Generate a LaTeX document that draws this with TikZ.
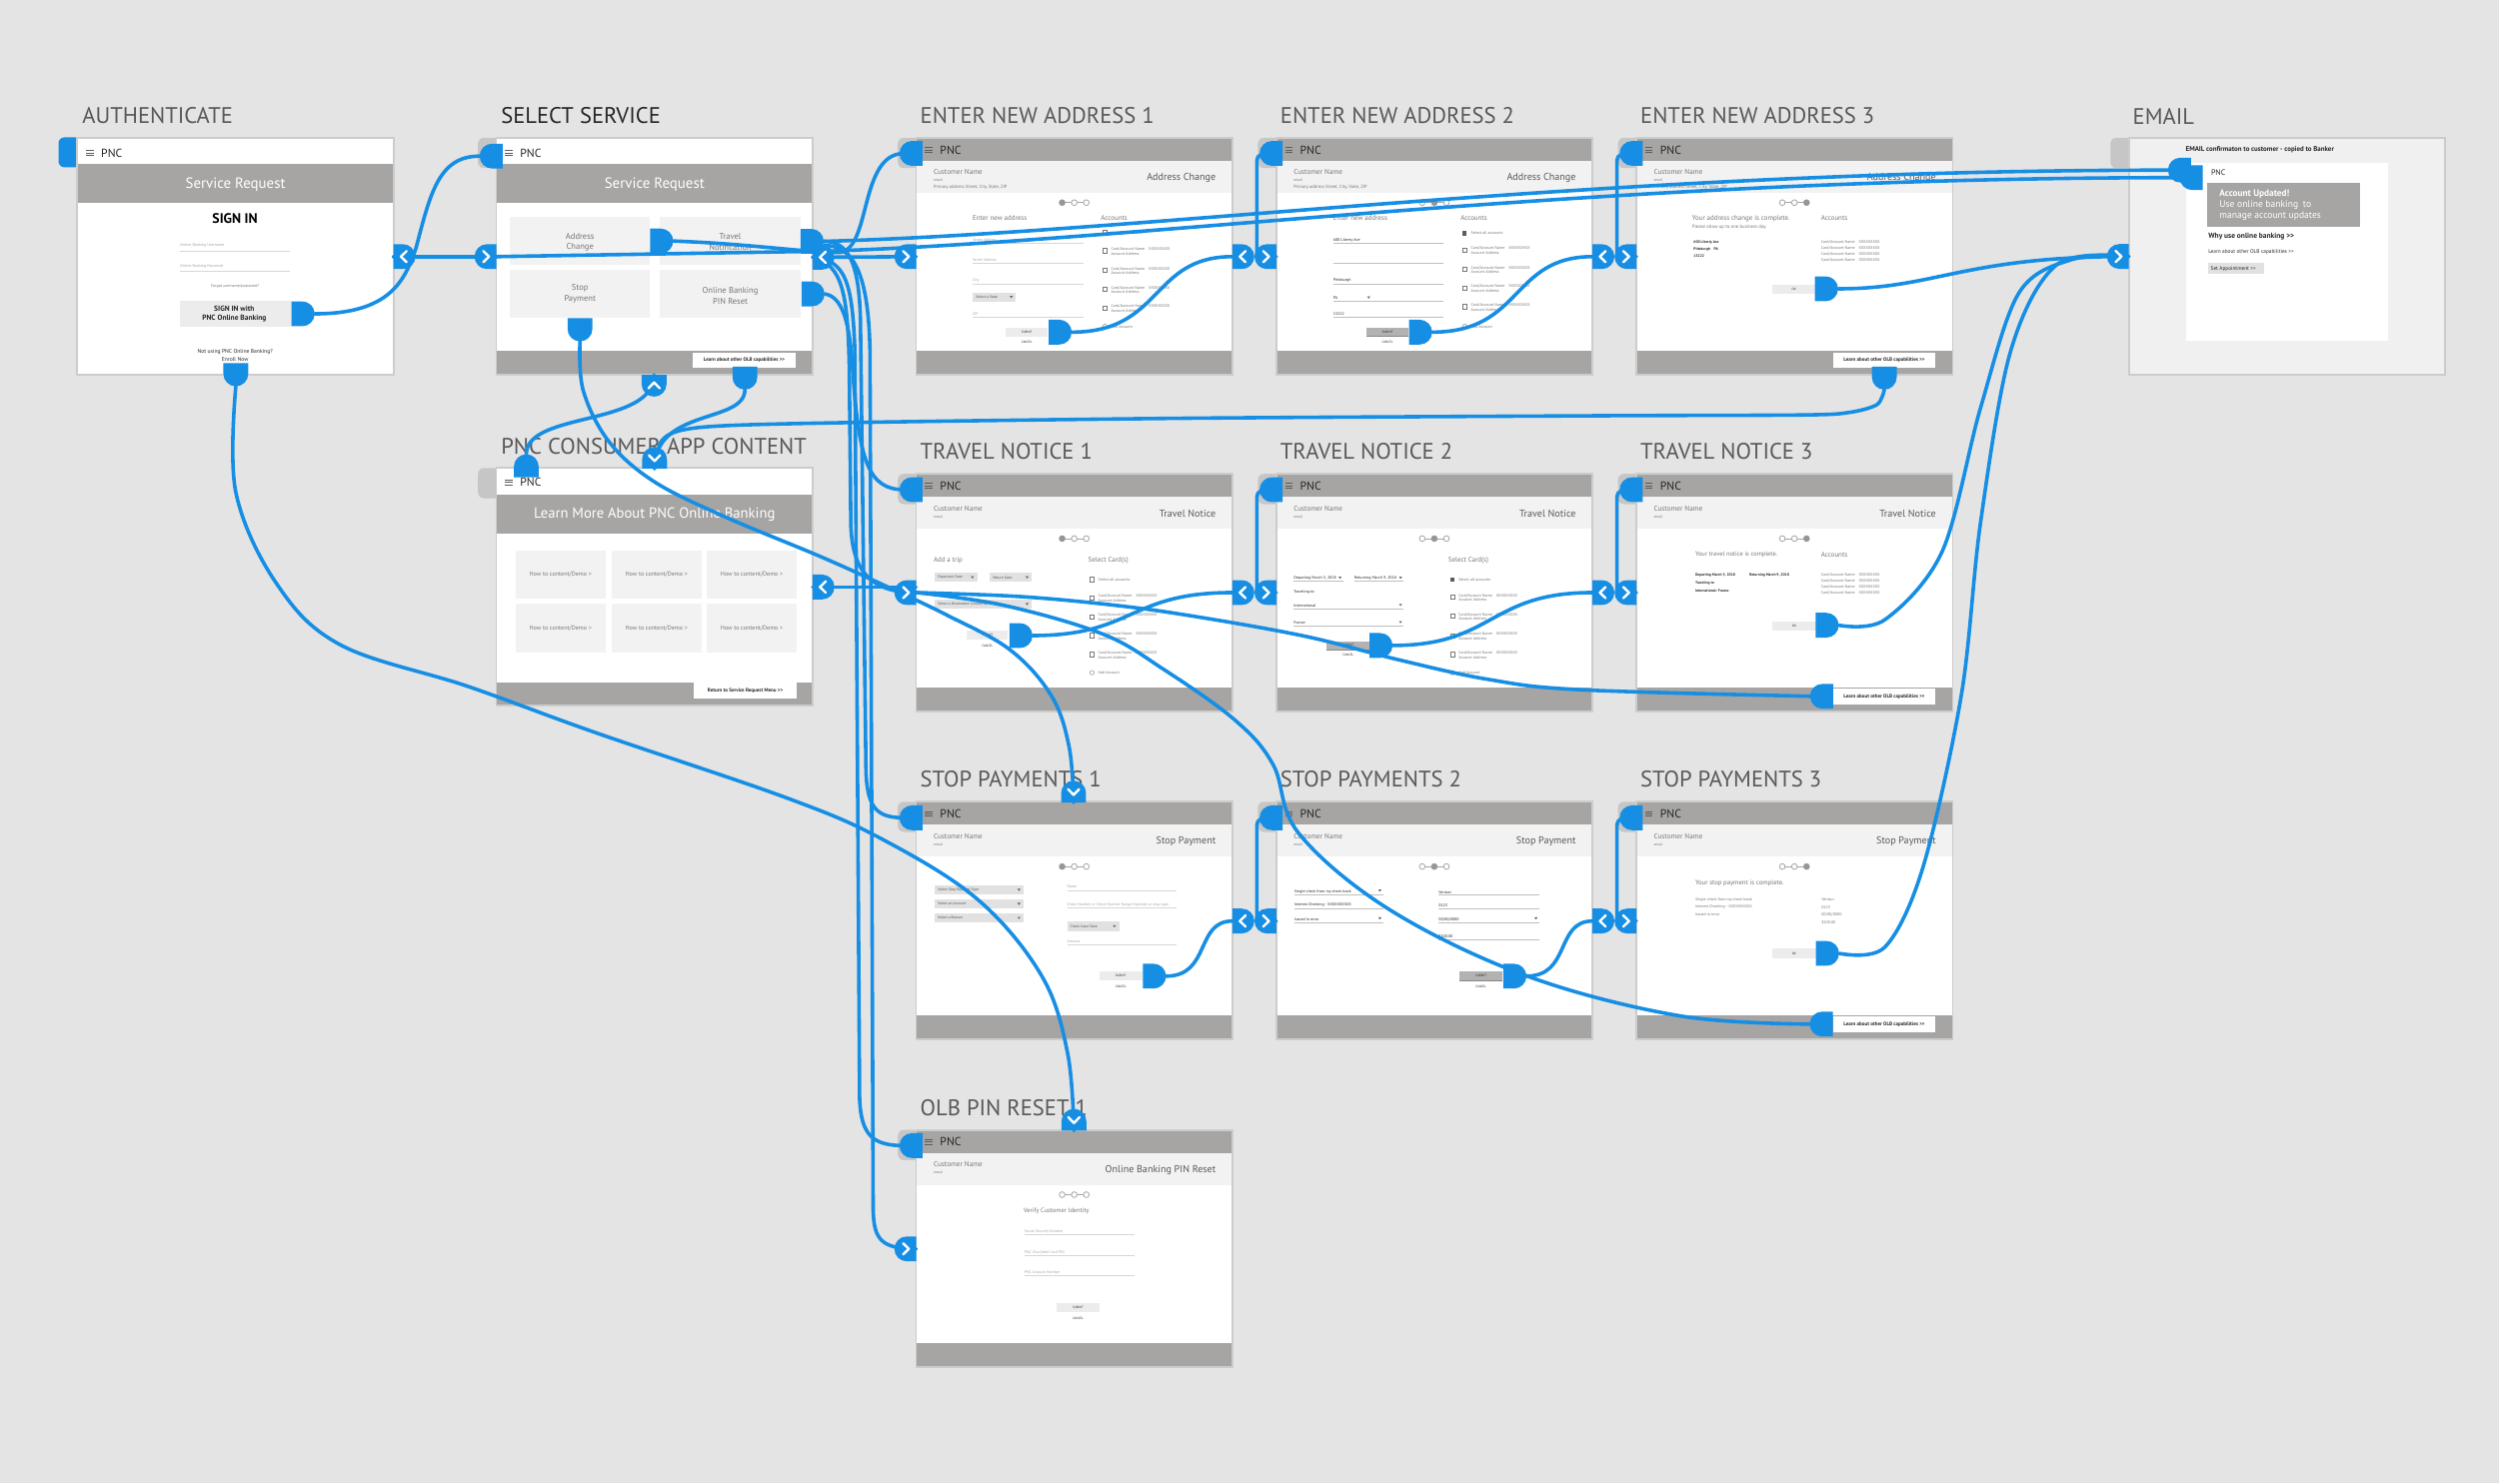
\documentclass[tikz,border=0pt]{standalone}
\usepackage{fontspec}
\setmainfont{PT Sans}
\usetikzlibrary{calc}
\definecolor{bg}{RGB}{228,228,228}
\definecolor{hdr}{RGB}{166,165,163}
\definecolor{band}{RGB}{243,242,243}
\definecolor{bd}{RGB}{204,204,204}
\definecolor{tabg}{RGB}{198,198,198}
\definecolor{blu}{RGB}{22,142,228}
\definecolor{ttl}{RGB}{88,88,88}
\definecolor{tg}{RGB}{118,118,118}
\definecolor{tl}{RGB}{165,165,165}
\definecolor{dk}{RGB}{38,38,38}
\definecolor{tile}{RGB}{243,242,243}
\definecolor{btn}{RGB}{236,236,236}
\definecolor{dd}{RGB}{225,225,225}
\definecolor{ln}{RGB}{214,214,214}
\definecolor{lnd}{RGB}{190,190,190}
\definecolor{embg}{RGB}{240,240,240}
\definecolor{dbtn}{RGB}{178,178,178}
\definecolor{dotg}{RGB}{150,150,150}
\newcounter{tn}
\tikzset{
  lbl/.style={inner sep=0pt, outer sep=0pt, anchor=west, text=tg},
  f/.style={font=\fontsize{#1pt}{#1pt}\selectfont},
  fb/.style={font=\fontsize{#1pt}{#1pt}\selectfont\bfseries},
  conn/.style={draw=blu, line width=1.35pt, line cap=round, line join=round},
  chev/.style={draw=white, line width=0.9pt, line cap=round, line join=round},
  thinl/.style={line width=0.3pt},
}
\newcommand\GG{>\kern0pt>}
\newcommand\Tx[3][]{\stepcounter{tn}\node[lbl,#1] (t\arabic{tn}) at (#2) {#3};}
\newcommand\Hamb[1]{%
  \draw[dk!75,line width=0.35pt] (5.5,#1-1.5) -- (10.3,#1-1.5) (5.5,#1) -- (10.3,#1) (5.5,#1+1.5) -- (10.3,#1+1.5);
  \Tx[f=4.4,text=dk]{15,#1}{PNC}}
\newcommand\FrmA[1][white]{\fill[tabg, rounded corners=2.2pt] (-11.5,0) rectangle (4,19); \fill[#1] (0,0) rectangle (198.5,149);}
\newcommand\FrmZ{\draw[bd, line width=0.7pt] (0,0) rectangle (198.5,149);}
\newcommand\AppHdr[2]{%
  \fill[hdr] (0,0.6) rectangle (198.5,14.5);
  \fill[band] (0,14.5) rectangle (198.5,34.5);
  \fill[hdr] (0,134) rectangle (198.5,148.4);
  \Hamb{7.6}
  \Tx[f=2.7]{11,21.6}{Customer Name}
  \Tx[f=1.4]{11,26.7}{email}
  \Tx[f=3.8,anchor=east,text=ttl]{188,25}{#1}
  #2}
\newcommand\Prog[2]{%
  \draw[tl,line width=0.3pt] (#1-7.6,#2) -- (#1+7.6,#2);
  \filldraw[draw=tl,fill=white,line width=0.3pt] (#1-7.6,#2) circle[radius=1.8] (#1,#2) circle[radius=1.8] (#1+7.6,#2) circle[radius=1.8];}
\newcommand\Dot[2]{\fill[dotg] (#1,#2) circle[radius=1.9];}
\newcommand\Fld[4]{\Tx[f=1.45,text=tl]{#1,#2-2}{#4}\draw[ln,thinl] (#1,#2) -- (#1+#3,#2);}
\newcommand\Val[4]{\Tx[f=1.5,text=dk]{#1,#2-2}{#4}\draw[lnd,thinl] (#1,#2) -- (#1+#3,#2);}
\newcommand\Tri[2]{\fill[dk!70] (#1-1,#2-0.7) -- (#1+1,#2-0.7) -- (#1,#2+0.7) -- cycle;}
\newcommand\Ddn[4]{%
  \fill[dd] (#1,#2) rectangle (#1+#3,#2+5.8);
  \Tx[f=1.4,text=dk!80]{#1+2,#2+2.9}{#4}
  \Tri{#1+#3-3}{#2+2.9}}
\newcommand\Btn[6]{\fill[#5] (#1,#2) rectangle (#1+#3,#2+#4); \Tx[f=1.2,text=dk,anchor=center]{#1+0.5*#3,#2+0.5*#4}{#6}}
\newcommand\FBtn[3]{\fill[white] (#1,#2) rectangle (#1+64.5,#2+9.8); \Tx[fb=1.9,text=dk,anchor=center]{#1+32.25,#2+4.9}{#3}}
\newcommand\Acct[2]{%
  \draw[tg,line width=0.25pt] (#1-1.2,#2-1.3) rectangle (#1+1.2,#2+1.3);
  \Tx[f=1.5]{#1+4,#2-0.9}{Card/Account Name\quad XXXXXXXXX}
  \Tx[f=1.5]{#1+4,#2+1.8}{Account Address}}
\newcommand\AcctBlock[8]{%
  \ifnum#8=1 \fill[dk!75] (#1-1.3,#2-1.4) rectangle (#1+1.3,#2+1.4);\else
  \draw[tg,line width=0.25pt] (#1-1.2,#2-1.3) rectangle (#1+1.2,#2+1.3);\fi
  \Tx[f=1.5]{#1+4,#2}{Select all accounts}
  \Acct{#1}{#3}\Acct{#1}{#4}\Acct{#1}{#5}\Acct{#1}{#6}
  \draw[tl,line width=0.25pt] (#1,#7) circle[radius=1.4];
  \Tx[f=1.5]{#1+4,#7}{Add Account}}
\newcommand\Vc[2]{\draw[conn] (#1) -- ++(-12.2,0) -- ($(#2)+(-1.7,8)$) .. controls ($(#2)+(-1.7,1.5)$) .. ($(#2)+(4,0)$);}
\newcommand\Hsr[1]{\fill[blu] ([shift={(-14.5,-7.8)}]#1) -- ++(6.7,0) arc[start angle=-90,end angle=90,radius=7.8] -- ++(-6.7,0) -- cycle;}
\newcommand\Hsl[1]{\fill[blu] ([shift={(14.5,-7.8)}]#1) -- ++(-6.7,0) arc[start angle=-90,end angle=-270,radius=7.8] -- ++(6.7,0) -- cycle;}
\newcommand\Hsd[1]{\fill[blu] ([shift={(-7.8,-14.5)}]#1) -- ++(0,6.7) arc[start angle=180,end angle=0,radius=7.8] -- ++(0,-6.7) -- cycle;}
\newcommand\Hsu[1]{\fill[blu] ([shift={(-7.8,14.5)}]#1) -- ++(0,-6.7) arc[start angle=180,end angle=360,radius=7.8] -- ++(0,6.7) -- cycle;}
\newcommand\TabR[1]{\fill[blu] ([shift={(0,-7.8)}]#1) -- ++(5.9,0) arc[start angle=-90,end angle=90,radius=7.8] -- ++(-5.9,0) -- cycle;
  \draw[chev] ([shift={(8.2,-3.5)}]#1) -- ([shift={(4.6,0)}]#1) -- ([shift={(8.2,3.5)}]#1);}
\newcommand\TabL[1]{\fill[blu] ([shift={(0,-7.8)}]#1) -- ++(-5.9,0) arc[start angle=-90,end angle=-270,radius=7.8] -- ++(5.9,0) -- cycle;
  \draw[chev] ([shift={(-8.2,-3.5)}]#1) -- ([shift={(-4.6,0)}]#1) -- ([shift={(-8.2,3.5)}]#1);}
\newcommand\TabU[1]{\fill[blu] ([shift={(-7.8,0)}]#1) -- ++(0,-5.9) arc[start angle=180,end angle=360,radius=7.8] -- ++(0,5.9) -- cycle;
  \draw[chev] ([shift={(-3.5,-8.4)}]#1) -- ([shift={(0,-4.8)}]#1) -- ([shift={(3.5,-8.4)}]#1);}
\newcommand\TabD[1]{\fill[blu] ([shift={(-7.8,0)}]#1) -- ++(0,5.9) arc[start angle=180,end angle=0,radius=7.8] -- ++(0,-5.9) -- cycle;
  \draw[chev] ([shift={(-3.5,8.4)}]#1) -- ([shift={(0,4.8)}]#1) -- ([shift={(3.5,8.4)}]#1);}
\begin{document}
\begin{tikzpicture}[x=0.6pt,y=-0.6pt]
\fill[bg] (0,0) rectangle (1568.4,931);
\useasboundingbox (0,0) rectangle (1568.4,931);
% ---------- titles
\Tx[f=8.5,text=ttl]{51.7,72.8}{AUTHENTICATE}
\Tx[f=8.5,text=dk]{314.5,72.8}{SELECT SERVICE}
\Tx[f=8.5,text=ttl]{577.6,72.8}{ENTER NEW ADDRESS 1}
\Tx[f=8.5,text=ttl]{803.6,72.8}{ENTER NEW ADDRESS 2}
\Tx[f=8.5,text=ttl]{1029.6,72.8}{ENTER NEW ADDRESS 3}
\Tx[f=8.5,text=ttl]{1338.6,72.8}{EMAIL}
\Tx[f=8.5,text=ttl]{314.5,279.9}{PNC CONSUMER APP CONTENT}
\Tx[f=8.5,text=ttl]{577.6,283.3}{TRAVEL NOTICE 1}
\Tx[f=8.5,text=ttl]{803.6,283.3}{TRAVEL NOTICE 2}
\Tx[f=8.5,text=ttl]{1029.6,283.3}{TRAVEL NOTICE 3}
\Tx[f=8.5,text=ttl]{577.6,489.3}{STOP PAYMENTS 1}
\Tx[f=8.5,text=ttl]{803.6,489.3}{STOP PAYMENTS 2}
\Tx[f=8.5,text=ttl]{1029.6,489.3}{STOP PAYMENTS 3}
\Tx[f=8.5,text=ttl]{577.6,695.3}{OLB PIN RESET 1}
% ---------- AUTHENTICATE
\begin{scope}[shift={(48.5,86.5)}]
 \fill[blu, rounded corners=2.2pt] (-11.8,-0.3) rectangle (4,18.5);
 \fill[white] (0,0) rectangle (198.5,149);
 \Hamb{9.7}
 \fill[hdr] (0,16.5) rectangle (198.5,41);
 \Tx[f=5.6,text=white,anchor=center]{99.3,29.5}{Service Request}
 \Tx[fb=5.2,text=black,anchor=center]{99,50.5}{SIGN IN}
 \Tx[f=1.5,text=tl]{64.5,67.6}{Online Banking Username}
 \draw[ln,thinl] (64.5,71) -- (133.5,71);
 \Tx[f=1.5,text=tl]{64.5,80.8}{Online Banking Password}
 \draw[ln,thinl] (64.5,83.9) -- (133.5,83.9);
 \Tx[f=1.5,text=tg,anchor=center]{99,93.3}{Forgot username/password?}
 \fill[btn] (64.5,102.3) rectangle (134.5,118.8);
 \Tx[fb=2.8,text=dk,anchor=center]{98.5,107.5}{SIGN IN with}
 \Tx[fb=2.8,text=dk,anchor=center]{98.5,113.4}{PNC Online Banking}
 \Tx[f=2.1,text=dk,anchor=center]{99,134.1}{Not using PNC Online Banking?}
 \Tx[f=2.1,text=dk,anchor=center]{99,138.9}{Enroll Now}
 \FrmZ
\end{scope}
% ---------- SELECT SERVICE
\begin{scope}[shift={(311.5,86.5)}]
 \FrmA
 \Hamb{9.7}
 \fill[hdr] (0,16.5) rectangle (198.5,41);
 \Tx[f=5.6,text=white,anchor=center]{99.3,29.5}{Service Request}
 \fill[tile] (8.5,49.4) rectangle (96.5,79.7);
 \fill[tile] (102.5,49.4) rectangle (191,79.7);
 \fill[tile] (8.5,82.9) rectangle (96.5,113.2);
 \fill[tile] (102.5,82.9) rectangle (191,113.2);
 \Tx[f=3.2,anchor=center]{52.5,61.9}{Address}
 \Tx[f=3.2,anchor=center]{52.5,68.8}{Change}
 \Tx[f=3.2,anchor=center]{146.8,61.9}{Travel}
 \Tx[f=3.2,anchor=center]{146.8,68.8}{Notification}
 \Tx[f=3.2,anchor=center]{52.5,94.4}{Stop}
 \Tx[f=3.2,anchor=center]{52.5,101}{Payment}
 \Tx[f=3.2,anchor=center]{146.8,96}{Online Banking}
 \Tx[f=3.2,anchor=center]{146.8,102.6}{PIN Reset}
 \fill[hdr] (0,134) rectangle (198.5,148.4);
 \FBtn{123.3}{134.7}{Learn about other OLB capabilities \GG}
 \FrmZ
\end{scope}
% ---------- PNC CONSUMER APP CONTENT
\begin{scope}[shift={(311.5,293.8)}]
 \FrmA
 \Hamb{9}
 \fill[hdr] (0,16.7) rectangle (198.5,41.2);
 \Tx[f=5.5,text=white,anchor=center]{99.3,29}{Learn More About PNC Online Banking}
 \foreach \a/\b in {12.2/51.8, 72.4/51.8, 132.2/51.8, 12.2/85.3, 72.4/85.3, 132.2/85.3}{
   \fill[tile] (\a,\b) rectangle (\a+56.3,\b+30.3);
   \Tx[f=2.3,anchor=center]{\a+28.1,\b+15.2}{How to content/Demo >}}
 \fill[hdr] (0,134.8) rectangle (198.5,148.6);
 \FBtn{124}{134.8}{Return to Service Request Menu \GG}
 \FrmZ
\end{scope}
% ---------- ENTER NEW ADDRESS 1
\begin{scope}[shift={(575,86.5)}]
 \FrmA
 \AppHdr{Address Change}{\Tx[f=1.7]{11,30.8}{Primary address Street, City, State, ZIP}}
 \Prog{99.2}{40.7}\Dot{91.6}{40.7}
 \Tx[f=2.6]{35.5,50.5}{Enter new address}
 \Tx[f=2.6]{116,50.5}{Accounts}
 \Fld{35.5}{66.2}{69.5}{Street Address}
 \Fld{35.5}{78.7}{69.5}{Street Address}
 \Fld{35.5}{91.7}{69.5}{City}
 \Ddn{35.5}{97.1}{27.2}{Select a State}
 \Fld{35.5}{112.6}{69.5}{ZIP}
 \AcctBlock{118.4}{59.5}{70.9}{83.3}{95}{106.9}{118.4}{0}
 \Btn{56.3}{119}{26.3}{5.8}{btn}{SUBMIT}
 \Tx[f=1.2,text=dk,anchor=center]{69.5,128.5}{CANCEL}
 \FrmZ
\end{scope}
% ---------- ENTER NEW ADDRESS 2
\begin{scope}[shift={(801,86.5)}]
 \FrmA
 \AppHdr{Address Change}{\Tx[f=1.7]{11,30.8}{Primary address Street, City, State, ZIP}}
 \Prog{99.2}{40.7}\Dot{99.2}{40.7}
 \Tx[f=2.6]{35.8,50.5}{Enter new address}
 \Tx[f=2.6]{115.8,50.5}{Accounts}
 \Val{35.8}{66.2}{68.8}{600 Liberty Ave}
 \draw[lnd,thinl] (35.8,78.7) -- (104.6,78.7);
 \Val{35.8}{91.7}{68.8}{Pittsburgh}
 \Val{35.8}{102.3}{68.8}{PA}\Tri{58}{100.3}
 \Val{35.8}{112.6}{68.8}{15222}
 \AcctBlock{118.3}{60}{70.5}{82.5}{94.2}{106}{118.4}{1}
 \Btn{56.6}{119.2}{26.5}{5.6}{dbtn}{SUBMIT}
 \draw[dk!55,line width=0.4pt] (56.6,124.8) -- (83.1,124.8);
 \Tx[f=1.2,text=dk,anchor=center]{69.8,128.5}{CANCEL}
 \FrmZ
\end{scope}
% ---------- ENTER NEW ADDRESS 3
\begin{scope}[shift={(1027,86.5)}]
 \FrmA
 \AppHdr{Address Change}{\Tx[f=1.7]{11,30.8}{Primary address Street, City, State, ZIP}}
 \Prog{99.2}{40.7}\Dot{106.8}{40.7}
 \Tx[f=2.6]{35,50.5}{Your address change is complete.}
 \Tx[f=1.8]{35,55.9}{Please allow up to one business day.}
 \Tx[f=2.6]{116,50.5}{Accounts}
 \Tx[fb=1.4,text=dk]{36,65.7}{600 Liberty Ave}
 \Tx[fb=1.4,text=dk]{36,70.1}{Pittsburgh\quad PA}
 \Tx[fb=1.4,text=dk]{36,74.1}{15222}
 \Tx[f=1.5]{116,65.7}{Card/Account Name\quad XXXXXXXXX}
 \Tx[f=1.5]{116,69.5}{Card/Account Name\quad XXXXXXXXX}
 \Tx[f=1.5]{116,73.2}{Card/Account Name\quad XXXXXXXXX}
 \Tx[f=1.5]{116,77}{Card/Account Name\quad XXXXXXXXX}
 \Btn{85.4}{92.3}{27.1}{5.6}{btn}{OK}
 \FBtn{123.3}{134.7}{Learn about other OLB capabilities \GG}
 \FrmZ
\end{scope}
% ---------- EMAIL
\begin{scope}[shift={(1336,86.5)}]
 \FrmA[embg]
 \Tx[fb=2.6,text=dk]{35.8,7.2}{EMAIL confirmaton to customer - copied to Banker}
 \fill[white] (35.8,16) rectangle (162.5,127.5);
 \Tx[f=3,text=dk]{51.7,22.1}{PNC}
 \fill[hdr] (48.9,28.1) rectangle (145,55.7);
 \Tx[fb=3.5,text=white]{57,35.4}{Account Updated!}
 \Tx[f=3.6,text=white]{57,42.3}{Use online banking\enspace to}
 \Tx[f=3.6,text=white]{57,49.2}{manage account updates}
 \Tx[fb=2.8,text=dk]{50,62.2}{Why use online banking \GG}
 \Tx[f=2,text=dk]{50,71.8}{Learn about other OLB capabilities \GG}
 \fill[dd] (50,78.7) rectangle (85,85.6);
 \Tx[f=2,text=dk]{51.5,82.2}{Set Appointment \GG}
 \FrmZ
\end{scope}
% ---------- TRAVEL NOTICE 1
\begin{scope}[shift={(575,297.5)}]
 \FrmA
 \AppHdr{Travel Notice}{}
 \Prog{99.2}{40.6}\Dot{91.6}{40.6}
 \Tx[f=2.6]{11,54.2}{Add a trip}
 \Tx[f=2.6]{108,54.2}{Select Card(s)}
 \Ddn{11.7}{62.1}{26.6}{Departure Date}
 \Ddn{46.3}{62.1}{26.3}{Return Date}
 \Ddn{11.7}{78.9}{60.9}{Select a Destination (choose up to 10)}
 \AcctBlock{110.3}{66.3}{77.8}{89.7}{101.4}{113.3}{124.8}{0}
 \Btn{31.9}{98.1}{25.6}{6.2}{btn}{SUBMIT}
 \Tx[f=1.2,text=dk,anchor=center]{44.7,108.1}{CANCEL}
 \FrmZ
\end{scope}
% ---------- TRAVEL NOTICE 2
\begin{scope}[shift={(801,297.5)}]
 \FrmA
 \AppHdr{Travel Notice}{}
 \Prog{99.2}{40.6}\Dot{99.2}{40.6}
 \Tx[f=2.6]{108,54.2}{Select Card(s)}
 \Val{11}{67.5}{31}{Departing March 3, 2018}\Tri{40}{65.2}
 \Val{49}{67.5}{31}{Returning March 9, 2018}\Tri{78}{65.2}
 \Tx[f=1.5,text=dk]{11,74.5}{Traveling to:}
 \Val{11}{84.8}{69}{International}\Tri{78}{82.3}
 \Val{11}{95.6}{69}{France}\Tri{78}{93.1}
 \AcctBlock{110.5}{66.3}{77.4}{89.3}{101.5}{113.3}{124.8}{1}
 \Btn{31.8}{105}{26.8}{5.3}{dbtn}{SUBMIT}
 \draw[dk!55,line width=0.4pt] (31.8,110.3) -- (58.6,110.3);
 \Tx[f=1.2,text=dk,anchor=center]{45.2,113.7}{CANCEL}
 \FrmZ
\end{scope}
% ---------- TRAVEL NOTICE 3
\begin{scope}[shift={(1027,297.5)}]
 \FrmA
 \AppHdr{Travel Notice}{}
 \Prog{99.2}{40.6}\Dot{106.8}{40.6}
 \Tx[f=2.4]{37,50.9}{Your travel notice is complete.}
 \Tx[f=2.6]{116,50.9}{Accounts}
 \Tx[fb=1.4,text=dk]{37,63.5}{Departing March 3, 2018}
 \Tx[fb=1.4,text=dk]{71,63.5}{Returning March 9, 2018}
 \Tx[fb=1.4,text=dk]{37,68.5}{Traveling to}
 \Tx[fb=1.4,text=dk]{37,73.5}{International: France}
 \Tx[f=1.5]{116,63.5}{Card/Account Name\quad XXXXXXXXX}
 \Tx[f=1.5]{116,67.2}{Card/Account Name\quad XXXXXXXXX}
 \Tx[f=1.5]{116,71.1}{Card/Account Name\quad XXXXXXXXX}
 \Tx[f=1.5]{116,74.7}{Card/Account Name\quad XXXXXXXXX}
 \Btn{85.5}{92.5}{27.1}{5.6}{btn}{OK}
 \FBtn{123.3}{134.9}{Learn about other OLB capabilities \GG}
 \FrmZ
\end{scope}
% ---------- STOP PAYMENTS 1
\begin{scope}[shift={(575,503.3)}]
 \FrmA
 \AppHdr{Stop Payment}{}
 \Prog{99.2}{40.7}\Dot{91.6}{40.7}
 \Ddn{11.5}{52.5}{56}{Select Stop Payment Type}
 \Ddn{11.5}{61.3}{56}{Select an Account}
 \Ddn{11.5}{70.1}{56}{Select a Reason}
 \Fld{94.7}{55.7}{68.8}{Payee}
 \Fld{94.7}{66.5}{68.8}{Check Number or Check Number Range Depends on stop type}
 \Ddn{94.7}{75.3}{32.7}{Check Issue Date}
 \Fld{94.7}{89.9}{68.8}{Amount}
 \Btn{115}{106.4}{26.8}{5.9}{btn}{SUBMIT}
 \Tx[f=1.2,text=dk,anchor=center]{128.4,116}{CANCEL}
 \FrmZ
\end{scope}
% ---------- STOP PAYMENTS 2
\begin{scope}[shift={(801,503.3)}]
 \FrmA
 \AppHdr{Stop Payment}{}
 \Prog{99.2}{40.7}\Dot{99.2}{40.7}
 \Val{11.4}{58.5}{55.6}{Single check from my check book}\Tri{65}{55.8}
 \Val{11.4}{67}{55.6}{Interest Checking - XXXXXXXXXX}\Tri{65}{64.3}
 \Val{11.4}{76}{55.6}{Issued in error}\Tri{65}{73.3}
 \Val{102}{58.7}{63}{Verizon}
 \Val{102}{67.1}{63}{0123}
 \Val{102}{76}{63}{00/00/0000}\Tri{163}{73.3}
 \Val{102}{86.7}{63}{\$100.00}
 \Btn{115}{106.4}{27}{5.9}{dbtn}{SUBMIT}
 \draw[dk!55,line width=0.4pt] (115,112.3) -- (142,112.3);
 \Tx[f=1.2,text=dk,anchor=center]{128.5,116}{CANCEL}
 \FrmZ
\end{scope}
% ---------- STOP PAYMENTS 3
\begin{scope}[shift={(1027,503.3)}]
 \FrmA
 \AppHdr{Stop Payment}{}
 \Prog{99.2}{40.7}\Dot{106.8}{40.7}
 \Tx[f=2.5]{37,51}{Your stop payment is complete.}
 \Tx[f=1.5]{37,61.5}{Single check from my check book}
 \Tx[f=1.5]{37,66.1}{Interest Checking - XXXXXXXXXX}
 \Tx[f=1.5]{37,70.7}{Issued in error}
 \Tx[f=1.5]{116.2,61.5}{Verizon}
 \Tx[f=1.5]{116.2,66.1}{0123}
 \Tx[f=1.5]{116.2,70.7}{00/00/0000}
 \Tx[f=1.5]{116.2,75.7}{\$100.00}
 \Btn{85.4}{92.2}{27.2}{6.1}{btn}{OK}
 \FBtn{123.3}{134.9}{Learn about other OLB capabilities \GG}
 \FrmZ
\end{scope}
% ---------- OLB PIN RESET 1
\begin{scope}[shift={(575,709.3)}]
 \FrmA
 \AppHdr{Online Banking PIN Reset}{}
 \Prog{99.2}{40.7}
 \Tx[f=2.4]{67.5,50.7}{Verify Customer Identity}
 \Fld{68}{66}{69}{Social Security Number}
 \Fld{68}{78.6}{69}{PNC Visa Debit Card PIN}
 \Fld{68}{91.3}{69}{PNC Account Number}
 \Btn{88.2}{108.9}{26.8}{5.6}{btn}{SUBMIT}
 \Tx[f=1.2,text=dk,anchor=center]{101.6,118.5}{CANCEL}
 \FrmZ
\end{scope}
% ---------- anchor points of hotspots and arrow tabs
\coordinate (hSignin) at (197.5,197);
\coordinate (hEnroll) at (148,242.5);
\coordinate (aAuth) at (247,161.1);
\coordinate (hSelTop) at (301,98);
\coordinate (aSelIn) at (311.5,161.1);
\coordinate (hAddr) at (422.5,151.3);
\coordinate (hTrav) at (517,151.5);
\coordinate (hPinT) at (517.5,184.5);
\coordinate (aSelOut) at (510,161.5);
\coordinate (hStop) at (364,214.3);
\coordinate (aSelUp) at (410.5,235.3);
\coordinate (hLearn) at (467.5,244.6);
\coordinate (hPncTop) at (330.3,285.2);
\coordinate (aPncDn) at (410.8,294.2);
\coordinate (aPncOut) at (510,368.5);
\coordinate (hE1) at (564.5,96.3);
\coordinate (aE1in) at (575,161.1);
\coordinate (hE1s) at (672.6,208.5);
\coordinate (aE1out) at (773.5,161.1);
\coordinate (hE2) at (790.5,96.3);
\coordinate (aE2in) at (801,161.1);
\coordinate (hE2s) at (898.8,208.5);
\coordinate (aE2out) at (999.5,161.1);
\coordinate (hE3) at (1016.5,96.3);
\coordinate (aE3in) at (1027,161.1);
\coordinate (hE3ok) at (1153.6,181.3);
\coordinate (hE3l) at (1182.6,244.6);
\coordinate (aEm) at (1336,161);
\coordinate (hEm1) at (1360.6,106.8);
\coordinate (hEm2) at (1368,111.5);
\coordinate (hT1) at (564.5,307.4);
\coordinate (aT1in) at (575,372);
\coordinate (hT1s) at (648,399);
\coordinate (aT1out) at (773.5,372);
\coordinate (hT2) at (790.5,307.4);
\coordinate (aT2in) at (801,372);
\coordinate (hT2s) at (874,405.2);
\coordinate (aT2out) at (999.5,372);
\coordinate (hT3) at (1016.5,307.4);
\coordinate (aT3in) at (1027,372);
\coordinate (hT3ok) at (1154,392.5);
\coordinate (hT3l) at (1136,437.1);
\coordinate (hS1) at (564.5,513.4);
\coordinate (aS1dn) at (673.8,503.8);
\coordinate (hS1s) at (731.8,612.8);
\coordinate (aS1out) at (773.5,578.2);
\coordinate (hS2) at (790.5,513.4);
\coordinate (aS2in) at (801,578.2);
\coordinate (hS2s) at (958,612.8);
\coordinate (aS2out) at (999.5,578.2);
\coordinate (hS3) at (1016.5,513.4);
\coordinate (aS3in) at (1027,578.2);
\coordinate (hS3ok) at (1154.2,598.5);
\coordinate (hS3l) at (1135.8,642.9);
\coordinate (hP) at (564.5,719.2);
\coordinate (aPdn) at (674,709.8);
\coordinate (aPin) at (575,784);
% ---------- connectors
\draw[conn] (hSignin) .. controls (245,197) and (254,176) .. (261,156) .. controls (270,122) and (275,98) .. (hSelTop);
\draw[conn] (aAuth) -- (aSelIn);
\draw[conn] (aSelIn) -- (520,157.6) .. controls (720,151) and (1000,111.5) .. (hEm2);
\draw[conn] (hTrav) .. controls (720,146) and (1000,106.8) .. (hEm1);
\draw[conn] (hAddr) .. controls (470,153) and (505,158.5) .. (527,158.5) .. controls (547,156) and (539,96.3) .. ([shift={(3,0)}]hE1);
\draw[conn] (aSelOut) -- (aE1in);
\draw[conn] (hE1s) .. controls (730,208.5) and (722,161.1) .. (aE1out);
\Vc{aE2in}{hE2}
\draw[conn] (hE2s) .. controls (956,208.5) and (948,161.1) .. (aE2out);
\Vc{aE3in}{hE3}
\draw[conn] (hE3ok) .. controls (1215,181.3) and (1232,161) .. (aEm);
\draw[conn] plot[smooth,tension=0.55] coordinates {(hT3ok) (1183,389) (1219,346) (1243,256) (1267,184) (1300,163) (aEm)};
\draw[conn] plot[smooth,tension=0.55] coordinates {(hS3ok) (1183,594.5) (1207,544) (1231,436) (1243,328) (1262,220) (1291,166) (aEm)};
\draw[conn] plot[smooth,tension=0.5] coordinates {(hE3l) (1178,254) (1160,259) (1130,260.5) (1000,261) (750,262.5) (550,265) (460,267) (428,270) (415,277) (aPncDn)};
\draw[conn] (hLearn) .. controls (467.5,266) and (410.8,256) .. (aPncDn);
\draw[conn] (aSelUp) .. controls (410.5,268) and (330.3,258) .. (hPncTop);
\draw[conn] plot[smooth,tension=0.6] coordinates {(hStop) (366,245) (382,277) (410,302) (454,324) (514,349) (554,367) (594,386) (634,408) (660,437) (671,469) (aS1dn)};
\draw[conn] plot[smooth,tension=0.6] coordinates {(hEnroll) (148,309) (174,367) (214,405) (294,431) (374,460) (494,501) (554,527) (614,565) (654,613) (670,661) (aPdn)};
\draw[conn] (aPncOut) -- (aPncOut -| aT1in);
\draw[conn] (hT1s) .. controls (712,399) and (708,372) .. (aT1out);
\Vc{aT2in}{hT2}
\draw[conn] (hT2s) .. controls (938,405.2) and (934,372) .. (aT2out);
\Vc{aT3in}{hT3}
\draw[conn] plot[smooth,tension=0.6] coordinates {(hT3l) (992,433) (934,426.5) (877,414) (819,399.4) (750,387) (700,380) (640,374.5) (aT1in)};
\draw[conn] plot[smooth,tension=0.6] coordinates {(hS3l) (1054,637.7) (958,612.6) (872,571) (815,523) (799,480) (775,452) (730,420) (692,398) (630,380) (aT1in)};
\draw[conn] (hS1s) .. controls (760,612.8) and (750,578.2) .. (aS1out);
\Vc{aS2in}{hS2}
\draw[conn] (hS2s) .. controls (986,612.8) and (976,578.2) .. (aS2out);
\Vc{aS3in}{hS3}
\draw[conn] (hPinT) .. controls (528,186) and (533,200) .. (535,230) .. controls (539,290) and (545,307.4) .. ([shift={(3,0)}]hT1);
\draw[conn] (hTrav) .. controls (531,151.5) and (539,162) .. (540,200) -- (543.5,485) .. controls (544.5,507) and (550,513.4) .. ([shift={(3,0)}]hS1);
\draw[conn] (aSelOut) .. controls (531,163) and (535,178) .. (536.5,220) -- (539.5,690) .. controls (540.5,713) and (548,719.2) .. ([shift={(3,0)}]hP);
\draw[conn] ([shift={(0,2.5)}]hTrav) .. controls (536,154) and (545,172) .. (546,220) -- (548,760) .. controls (548.5,778) and (553,784) .. (aPin);
\draw[conn] (aSelOut) .. controls (529,166) and (532,185) .. (533,230) -- (534,330) .. controls (535,358) and (546,372) .. (aT1in);
% ---------- hotspots and arrow tabs
\Hsr{hSignin} \Hsd{hEnroll} \TabR{aAuth}
\Hsl{hSelTop} \TabL{aSelIn} \Hsr{hAddr} \Hsr{hTrav} \Hsr{hPinT} \TabR{aSelOut}
\Hsd{hStop} \TabD{aSelUp} \Hsd{hLearn}
\Hsu{hPncTop} \TabU{aPncDn} \TabR{aPncOut}
\Hsl{hE1} \TabL{aE1in} \Hsr{hE1s} \TabR{aE1out}
\Hsl{hE2} \TabL{aE2in} \Hsr{hE2s} \TabR{aE2out}
\Hsl{hE3} \TabL{aE3in} \Hsr{hE3ok} \Hsd{hE3l}
\TabL{aEm} \Hsl{hEm2} \Hsl{hEm1}
\Hsl{hT1} \TabL{aT1in} \Hsr{hT1s} \TabR{aT1out}
\Hsl{hT2} \TabL{aT2in} \Hsr{hT2s} \TabR{aT2out}
\Hsl{hT3} \TabL{aT3in} \Hsr{hT3ok} \Hsl{hT3l}
\Hsl{hS1} \TabU{aS1dn} \Hsr{hS1s} \TabR{aS1out}
\Hsl{hS2} \TabL{aS2in} \Hsr{hS2s} \TabR{aS2out}
\Hsl{hS3} \TabL{aS3in} \Hsr{hS3ok} \Hsl{hS3l}
\Hsl{hP} \TabU{aPdn} \TabL{aPin}
\end{tikzpicture}
\end{document}
